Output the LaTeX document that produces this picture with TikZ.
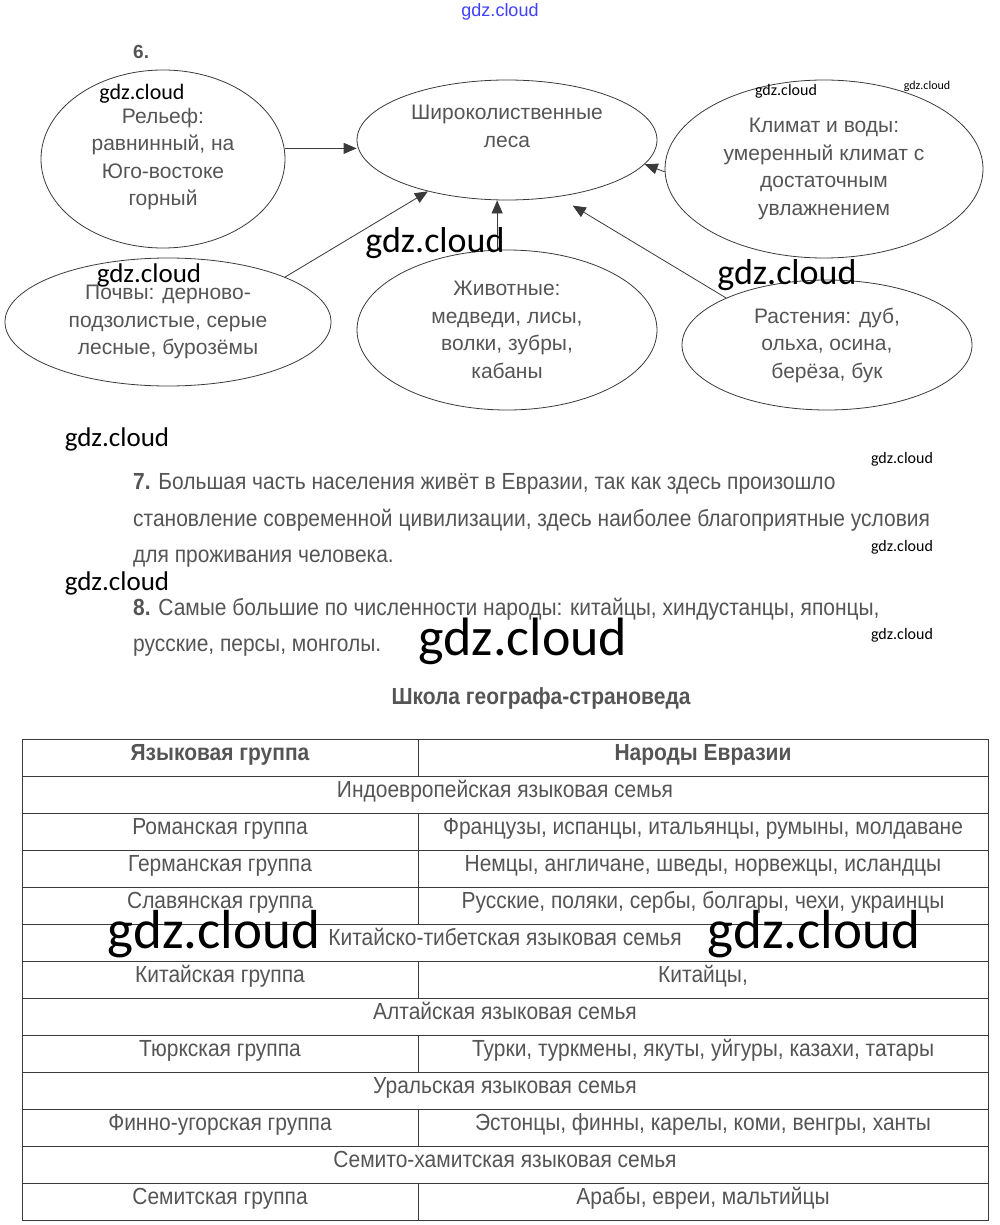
\documentclass[tikz,border=0pt]{standalone}
\usepackage{fontspec}
\setmainfont{Liberation Sans}
\newfontfamily\narrowfont[FakeStretch=0.9]{Liberation Sans}
\newfontfamily\wmfont{Carlito}
\usetikzlibrary{shapes.geometric,arrows.meta}

\definecolor{inkgray}{HTML}{555555}
\definecolor{rulegray}{HTML}{3A3A3A}

\tikzset{
    bubble/.style={ellipse, draw=rulegray, line width=0.8pt, inner sep=0pt,
        align=center, text=inkgray, font=\fontsize{21}{27.5}\selectfont},
    link/.style={draw=rulegray, line width=0.8pt,
        -{Triangle[length=13pt,width=11pt]}},
    wm/.style={inner sep=0pt, text=black, font=\wmfont\fontsize{#1}{#1}\selectfont},
    para/.style={anchor=base west, inner sep=0pt, text=inkgray,
        font=\narrowfont\fontsize{23.3}{23.3}\selectfont},
    cell/.style={anchor=base, inner sep=0pt, text=inkgray,
        font=\narrowfont\fontsize{23.3}{23.3}\selectfont}
}

\begin{document}
\begin{tikzpicture}[x=1pt, y=-1pt]
    \def\rowh{37}
    \def\tabtop{739}

    \fill[white] (0,0) rectangle (1000,1225);
    \useasboundingbox (0,0) rectangle (1000,1225);

    % Task 6: bubbles
    \node[anchor=base west, inner sep=0pt, font=\bfseries\fontsize{19}{19}\selectfont, text=inkgray] (six) at (133,59) {6.};

    \node[bubble, minimum width=244pt, minimum height=178pt] (relief) at (163,159)
        {Рельеф:\\равнинный, на\\Юго-востоке\\горный};
    \node[bubble, minimum width=300pt, minimum height=120pt] (forest) at (507,140)
        {Широколиственные\\леса\\\mbox{}};
    \node[bubble, minimum width=318pt, minimum height=178pt] (climate) at (824,169)
        {Климат и воды:\\умеренный климат с\\достаточным\\увлажнением};
    \node[bubble, minimum width=326pt, minimum height=128pt] (soil) at (168,322)
        {Почвы: дерново-\\подзолистые, серые\\лесные, бурозёмы};
    \node[bubble, minimum width=300pt, minimum height=160pt] (animals) at (507,330)
        {Животные:\\медведи, лисы,\\волки, зубры,\\кабаны};
    \node[bubble, minimum width=290pt, minimum height=130pt] (plants) at (827,345)
        {Растения: дуб,\\ольха, осина,\\берёза, бук};

    % Arrows into the centre bubble
    \draw[link] (relief.5) -- (relief.5 -| forest.west);
    \draw[link] (soil.21) -- (forest.213);
    \draw[link] (animals.97) -- (animals.97 |- forest.south);
    \draw[link, shorten >=17pt] (plants.155) -- (forest.312);
    \draw[link] (climate.181) -- (forest.350);

    % Tasks 7 and 8
    \node[para] (p7a) at (133,489) {\textbf{7.} Большая часть населения живёт в Евразии, так как здесь произошло};
    \node[para] (p7b) at (133,526) {становление современной цивилизации, здесь наиболее благоприятные условия};
    \node[para] (p7c) at (133,562) {для проживания человека.};
    \node[para] (p8a) at (133,615) {\textbf{8.} Самые большие по численности народы: китайцы, хиндустанцы, японцы,};
    \node[para] (p8b) at (133,651) {русские, персы, монголы.};

    \node[cell, font=\narrowfont\bfseries\fontsize{23.3}{23.3}\selectfont] (title) at (541,704) {Школа географа-страноведа};

    % Table: outer frame
    \draw[rulegray, line width=0.9pt] (22,\tabtop) rectangle (988,\tabtop+13*\rowh);
    \foreach \i in {1,...,12} {
        \draw[rulegray, line width=0.9pt] (22,\tabtop+\i*\rowh) -- (988,\tabtop+\i*\rowh);
    }

    % Rows with two cells
    \foreach \i/\grp/\ppl in {
        2/Романская группа/{Французы, испанцы, итальянцы, румыны, молдаване},
        3/Германская группа/{Немцы, англичане, шведы, норвежцы, исландцы},
        4/Славянская группа/{Русские, поляки, сербы, болгары, чехи, украинцы},
        6/Китайская группа/{Китайцы,},
        8/Тюркская группа/{Турки, туркмены, якуты, уйгуры, казахи, татары},
        10/Финно-угорская группа/{Эстонцы, финны, карелы, коми, венгры, ханты},
        12/Семитская группа/{Арабы, евреи, мальтийцы}
    } {
        \draw[rulegray, line width=0.9pt] (418,\tabtop+\i*\rowh) -- (418,\tabtop+\i*\rowh+\rowh);
        \node[cell] (grp\i) at (220,\tabtop+\i*\rowh+21) {\grp};
        \node[cell] (ppl\i) at (703,\tabtop+\i*\rowh+21) {\ppl};
    }

    % Header row
    \draw[rulegray, line width=0.9pt] (418,\tabtop) -- (418,\tabtop+\rowh);
    \node[cell, font=\narrowfont\bfseries\fontsize{23.3}{23.3}\selectfont] (hgrp) at (220,\tabtop+21) {Языковая группа};
    \node[cell, font=\narrowfont\bfseries\fontsize{23.3}{23.3}\selectfont] (hppl) at (703,\tabtop+21) {Народы Евразии};

    % Family rows across the table
    \foreach \i/\fam in {
        1/Индоевропейская языковая семья,
        5/Китайско-тибетская языковая семья,
        7/Алтайская языковая семья,
        9/Уральская языковая семья,
        11/Семито-хамитская языковая семья
    } {
        \node[cell] (fam\i) at (505,\tabtop+\i*\rowh+21) {\fam};
    }

    % Watermarks
    \node[inner sep=0pt, text=blue!75, font=\fontsize{18}{18}\selectfont] (wmtop) at (500,12) {gdz.cloud};
    \node[wm=22] (wma) at (142,94) {gdz.cloud};
    \node[wm=27] (wmb) at (149,275) {gdz.cloud};
    \node[wm=36] (wmc) at (435,243) {gdz.cloud};
    \node[wm=36] (wmd) at (787,275) {gdz.cloud};
    \node[wm=16] (wme) at (786,91) {gdz.cloud};
    \node[wm=12] (wmf) at (927,86) {gdz.cloud};
    \node[wm=27] (wmg) at (117,439) {gdz.cloud};
    \node[wm=16] (wmh) at (902,459) {gdz.cloud};
    \node[wm=16] (wmi) at (902,547) {gdz.cloud};
    \node[wm=27] (wmj) at (117,583) {gdz.cloud};
    \node[wm=54] (wmk) at (523,641) {gdz.cloud};
    \node[wm=16] (wml) at (902,635) {gdz.cloud};
    \node[wm=55] (wmm) at (214,934) {gdz.cloud};
    \node[wm=55] (wmn) at (814,934) {gdz.cloud};
\end{tikzpicture}
\end{document}
